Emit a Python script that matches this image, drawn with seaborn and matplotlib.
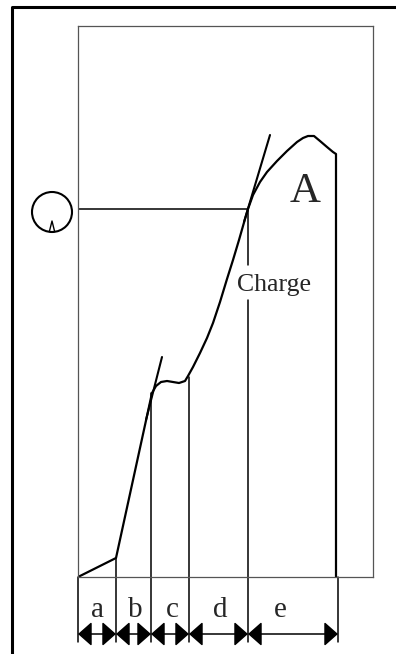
import matplotlib
matplotlib.use("Agg")
import matplotlib.pyplot as plt
import seaborn as sns
import numpy as np
import pandas as pd
from matplotlib.lines import Line2D
from matplotlib.patches import Circle

# --- DATA (schematic units: 1 unit ~ 1 pixel inside the inner box) ---
curve_x = [0, 38, 74, 78, 83, 89, 95, 101, 107, 110, 115, 122, 129, 135, 142, 149,
           155, 161, 167, 170, 175, 182, 189, 199, 209, 219, 225, 230, 236, 242,
           249, 255, 258, 258]
curve_y = [0, 19, 184, 191, 195, 196, 195, 194, 196, 201, 210, 224, 239, 254, 275, 298,
           317, 337, 358, 368, 382, 395, 405, 416, 426, 435, 439, 441, 441, 436,
           430, 425, 423, 0]

# tangent lines (end of stage b, end of stage d)
tangent_b_x = [68, 84]
tangent_b_y = [157, 220]
tangent_d_x = [166, 192]
tangent_d_y = [355, 442]

# stage boundaries and labels
bound_x = [0, 38, 73, 111, 170, 260]
bound_top = [0, 19, 184, 200, 368, 423]
stage_labels = ["a", "b", "c", "d", "e"]
label_x = [20, 57, 94, 142, 202]

level_y = 368          # horizontal marker level
charge_gap = (277, 312)  # gap in the d/e boundary around the "Charge" text

# --- PLOT ---
sns.set_style("white")
fig = plt.figure(figsize=(3.96, 6.54), dpi=100)
ax = fig.add_axes([78 / 396, 77 / 654, 295 / 396, 551 / 654])
ax.set_xlim(0, 295)
ax.set_ylim(0, 551)
ax.set_xticks([])
ax.set_yticks([])
for sp in ax.spines.values():
    sp.set_color("#555555")
    sp.set_linewidth(0.9)

df = pd.DataFrame({"x": curve_x, "y": curve_y})
sns.lineplot(data=df, x="x", y="y", sort=False, estimator=None, color="black",
             linewidth=1.6, ax=ax)
sns.lineplot(x=tangent_b_x, y=tangent_b_y, color="black", linewidth=1.5, ax=ax)
sns.lineplot(x=tangent_d_x, y=tangent_d_y, color="black", linewidth=1.5, ax=ax)
ax.set_xlabel("")
ax.set_ylabel("")

# horizontal level line
ax.plot([0, bound_x[4]], [level_y, level_y], color="black", lw=1.1)

# stage boundaries (inside box and extension below it)
ext_bottom = -65
for i, (bx, top) in enumerate(zip(bound_x, bound_top)):
    if i == 4:
        ax.plot([bx, bx], [top, charge_gap[1]], color="black", lw=1.1, clip_on=False)
        ax.plot([bx, bx], [charge_gap[0], ext_bottom], color="black", lw=1.1, clip_on=False)
    elif i == 5:
        ax.plot([bx, bx], [0, ext_bottom], color="black", lw=1.1, clip_on=False)
    else:
        ax.plot([bx, bx], [top, ext_bottom], color="black", lw=1.1, clip_on=False)

# dimension arrows and labels
for i, lab in enumerate(stage_labels):
    ax.annotate("", xy=(bound_x[i], -57), xytext=(bound_x[i + 1], -57),
                arrowprops=dict(arrowstyle="<|-|>,head_length=0.85,head_width=0.75",
                                mutation_scale=10, color="black", lw=1.1,
                                shrinkA=0, shrinkB=0),
                annotation_clip=False)
    ax.text(label_x[i], -33, lab, ha="center", va="center", fontsize=21,
            family="Liberation Serif", clip_on=False)

# texts
ax.text(227, 385, "A", ha="center", va="center", fontsize=31, family="Liberation Serif")
ax.text(196, 292, "Charge", ha="center", va="center", fontsize=18.5, family="Liberation Serif")

# circle marker at the level
ax.add_patch(Circle((-26, 365), 20, fill=False, edgecolor="black", lw=1.5, clip_on=False))
ax.plot([-28.5, -26, -23.5], [346, 356, 346], color="black", lw=1.0, clip_on=False)

# outer frame (only left and top visible)
fig.add_artist(Line2D([12 / 396, 12 / 396, 1.0], [0.0, 1 - 7 / 654, 1 - 7 / 654],
                      transform=fig.transFigure, color="black", lw=2.2))

fig.savefig("out.png", dpi=100)
